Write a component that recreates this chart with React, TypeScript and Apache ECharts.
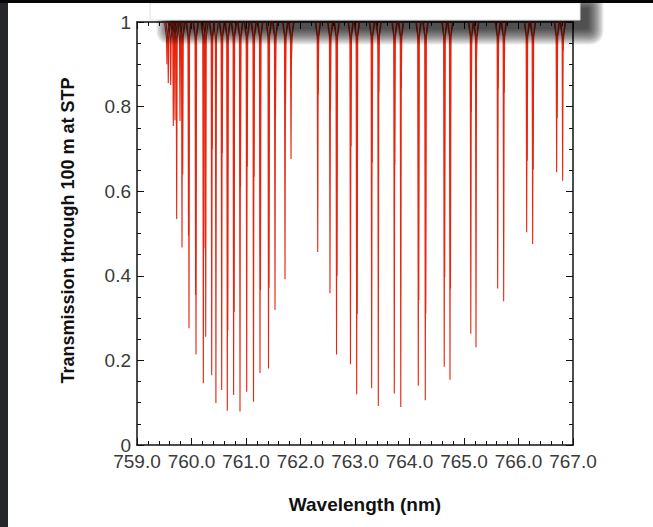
import React, { useEffect, useRef } from "react";
import * as echarts from "echarts";

// Strong absorption lines: centre wavelength (nm) and minimum transmission
const lineCenters = [
  759.574, 759.618, 759.666, 759.728, 759.826, 759.954, 760.083, 760.217, 760.261,
  760.371, 760.448, 760.554, 760.657, 760.773, 760.89, 761.013, 761.138, 761.257,
  761.413, 761.532, 761.716, 761.826,
  762.316, 762.541, 762.661, 762.917, 763.031, 763.306, 763.428, 763.721, 763.84,
  764.161, 764.29, 764.637, 764.743, 765.125, 765.22, 765.618, 765.728, 766.15,
  766.26, 766.7, 766.81,
];
const lineMinima = [
  0.855, 0.851, 0.754, 0.534, 0.467, 0.276, 0.214, 0.146, 0.256,
  0.165, 0.099, 0.13, 0.081, 0.118, 0.079, 0.126, 0.102, 0.17,
  0.181, 0.319, 0.392, 0.676,
  0.456, 0.359, 0.214, 0.191, 0.12, 0.134, 0.092, 0.122, 0.09,
  0.14, 0.106, 0.185, 0.154, 0.263, 0.231, 0.37, 0.34, 0.503,
  0.475, 0.645, 0.625,
];
// Weaker companion lines
const companionCenters = [
  759.55, 759.697, 759.789, 759.839, 759.945, 760.075, 760.228, 760.38, 760.563,
  760.666, 760.782, 760.899, 761.022, 761.147, 761.266, 761.422, 761.541, 761.725,
  761.835,
  762.325, 762.55, 762.67, 762.926, 763.04, 763.315, 763.437, 763.73, 763.849,
  764.17, 764.299, 764.646, 764.752, 765.134, 765.229, 765.627, 765.737, 766.159,
  766.269, 766.709, 766.819,
];
const companionMinima = [
  0.9, 0.768, 0.766, 0.64, 0.496, 0.355, 0.465, 0.7, 0.69,
  0.27, 0.315, 0.61, 0.658, 0.634, 0.366, 0.372, 0.776, 0.806,
  0.912,
  0.83, 0.79, 0.4, 0.706, 0.31, 0.667, 0.835, 0.662, 0.843,
  0.343, 0.311, 0.398, 0.37, 0.788, 0.91, 0.843, 0.833, 0.672,
  0.652, 0.773, 0.932,
];

const xTicks = [759, 760, 761, 762, 763, 764, 765, 766, 767];
const yTicks = [0, 0.2, 0.4, 0.6, 0.8, 1];

const FONT = "'Liberation Sans', Arial, sans-serif";

function renderLine(_params: any, api: any) {
  const c = api.value(0);
  const m = api.value(1);
  const pts = [
    api.coord([c - 0.045, 1]),
    api.coord([c - 0.01, 0.965]),
    api.coord([c, m]),
    api.coord([c + 0.01, 0.965]),
    api.coord([c + 0.045, 1]),
  ];
  return {
    type: "polyline",
    shape: { points: pts },
    style: { stroke: "#e8250f", lineWidth: 1.1, fill: null },
  };
}

// soft drop shadow built from stacked translucent rectangles
const shadowLayers = Array.from({ length: 12 }, (_, k) => ({
  type: "rect",
  z: 140,
  silent: true,
  shape: {
    x: 172 - 1.4 * k, y: 8 - 1.4 * k, width: 416 + 2.8 * k, height: 21 + 2.8 * k, r: 2 + k,
  },
  style: { fill: "rgba(0,0,0,0.09)" },
}));

export default function App() {
  const ref = useRef<HTMLDivElement>(null);
  useEffect(() => {
    if (!ref.current) return;
    const chart = echarts.init(ref.current, undefined, { renderer: "svg" });
    const axisLine = { show: true, onZero: false, lineStyle: { color: "#111", width: 1.5 } };
    const axisTick = { show: true, inside: true, length: 7, lineStyle: { color: "#111", width: 1 } };
    const xMinor = { show: true, splitNumber: 5, length: 4, lineStyle: { color: "#111", width: 1 } };
    const yMinor = { show: true, splitNumber: 4, length: 4, lineStyle: { color: "#111", width: 1 } };
    const xMin = xTicks[0], xMax = xTicks[xTicks.length - 1];
    const yMin = yTicks[0], yMax = yTicks[yTicks.length - 1];
    chart.setOption({
      animation: false,
      backgroundColor: "#ffffff",
      grid: { left: 137, right: 80, top: 22, bottom: 82 },
      xAxis: [
        {
          type: "value", min: xMin, max: xMax, interval: 1, position: "bottom",
          axisLine, axisTick, minorTick: xMinor, splitLine: { show: false },
          axisLabel: {
            formatter: (v: number) => v.toFixed(1), color: "#3a3a3a", fontSize: 19,
            fontFamily: FONT, margin: 7, lineHeight: 19,
          },
          name: "Wavelength (nm)", nameLocation: "middle", nameGap: 50,
          nameTextStyle: {
            fontWeight: "bold", fontSize: 19, color: "#111", fontFamily: FONT,
            padding: [0, 0, 0, 20],
          },
        },
        {
          type: "value", min: xMin, max: xMax, interval: 1, position: "top",
          axisLine, axisTick, minorTick: xMinor, splitLine: { show: false },
          axisLabel: { show: false },
        },
      ],
      yAxis: [
        {
          type: "value", min: yMin, max: yMax, interval: 0.2, position: "left",
          axisLine, axisTick, minorTick: yMinor, splitLine: { show: false },
          axisLabel: {
            color: "#3a3a3a", fontSize: 19, fontFamily: FONT, margin: 6, lineHeight: 17,
            padding: [0, 0, 7, 0],
          },
          name: "Transmission through 100 m at STP", nameLocation: "middle", nameGap: 60,
          nameRotate: 90,
          nameTextStyle: {
            fontWeight: "bold", fontSize: 18, color: "#111", fontFamily: FONT,
            padding: [0, 0, 0, 6],
          },
        },
        {
          type: "value", min: yMin, max: yMax, interval: 0.2, position: "right",
          axisLine, axisTick, minorTick: yMinor, splitLine: { show: false },
          axisLabel: { show: false },
        },
      ],
      series: [
        {
          type: "custom", xAxisIndex: 0, yAxisIndex: 0, clip: true,
          data: companionCenters.map((c, i) => [c, companionMinima[i]]),
          renderItem: renderLine,
        },
        {
          type: "custom", xAxisIndex: 0, yAxisIndex: 0, clip: true,
          data: lineCenters.map((c, i) => [c, lineMinima[i]]),
          renderItem: renderLine,
        },
      ],
      graphic: [
        ...shadowLayers,
        {
          type: "rect", z: 150, silent: true, shape: { x: 150, y: 3, width: 430, height: 17 },
          style: { fill: "#ffffff", stroke: "#e2e2e2", lineWidth: 1 },
        },
        { type: "rect", z: 200, shape: { x: 0, y: 0, width: 8, height: 527 }, style: { fill: "#26272c" } },
        { type: "rect", z: 200, shape: { x: 0, y: 0, width: 653, height: 3 }, style: { fill: "#060606" } },
      ],
    });
    return () => chart.dispose();
  }, []);
  return (
    <div
      ref={ref}
      style={{ position: "absolute", left: 0, top: 0, width: 653, height: 527, background: "#fff" }}
    />
  );
}
